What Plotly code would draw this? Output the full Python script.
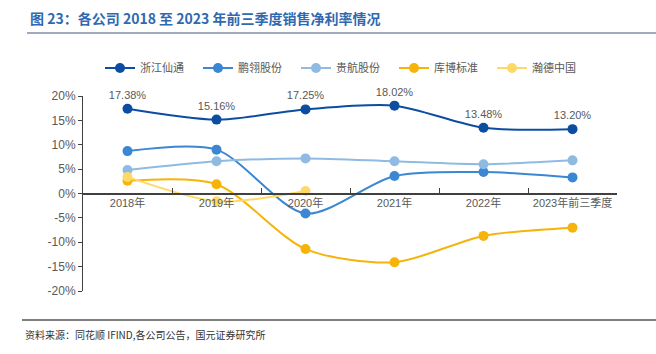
import plotly.graph_objects as go

categories = ["2018年", "2019年", "2020年", "2021年", "2022年", "2023年前三季度"]
zjxt = [17.38, 15.16, 17.25, 18.02, 13.48, 13.20]
plgf = [8.7, 9.0, -4.1, 3.6, 4.4, 3.3]
ghgf = [4.8, 6.6, 7.2, 6.6, 6.0, 6.8]
kbbz = [2.6, 1.9, -11.4, -14.1, -8.7, -7.0]
hdzg = [3.4, -1.6, 0.5, None, None, None]
y_ticks = [-20, -15, -10, -5, 0, 5, 10, 15, 20]

series = [
    ("浙江仙通", zjxt, "#0C4DA2"),
    ("鹏翎股份", plgf, "#3B87D2"),
    ("贵航股份", ghgf, "#8FBBE3"),
    ("库博标准", kbbz, "#F6B40A"),
    ("瀚德中国", hdzg, "#FFD966"),
]

W, H = 656, 354
ml, mr, mt, mb = 83, 39, 96, 63
fig = go.Figure()
for i, (name, vals, col) in enumerate(series):
    if i == 0:
        kw = dict(mode="lines+markers+text",
                  text=[f"{v:.2f}%" for v in vals],
                  textposition="top center",
                  textfont=dict(size=11, color="#595959", family="Liberation Sans, Arial"))
    else:
        kw = dict(mode="lines+markers")
    fig.add_trace(go.Scatter(
        x=categories, y=vals, name=name,
        line=dict(color=col, width=2, shape="spline", smoothing=0.8),
        marker=dict(color=col, size=10),
        connectgaps=False, cliponaxis=False, **kw))

fig.update_layout(
    width=W, height=H,
    margin=dict(l=ml, r=mr, t=mt, b=mb),
    paper_bgcolor="white", plot_bgcolor="white",
    showlegend=True,
    legend=dict(orientation="h", x=(100 - ml) / (W - ml - mr), xanchor="left",
                y=1 + (mt - 68) / (H - mt - mb), yanchor="middle",
                font=dict(size=11, color="#595959", family="Noto Sans CJK SC"),
                entrywidth=53, itemwidth=30, bgcolor="rgba(0,0,0,0)"),
    font=dict(family="Liberation Sans, Arial", color="#595959"),
)
fig.update_yaxes(range=[-20, 20], tickvals=y_ticks,
                 ticktext=[f"{v}%" for v in y_ticks],
                 showgrid=False, zeroline=False, showline=True,
                 linecolor="#404040", linewidth=1, ticks="outside", ticklen=4,
                 tickcolor="#404040", tickfont=dict(size=12, color="#595959"))
fig.update_xaxes(type="category", anchor="free", position=0.5,
                 showgrid=False, zeroline=False, showline=True,
                 linecolor="#404040", linewidth=1.5, ticks="inside", ticklen=5,
                 tickson="boundaries", tickcolor="#404040", tickangle=0,
                 tickfont=dict(size=11, color="#595959", family="Liberation Sans, Noto Sans CJK SC"),
                 range=[-0.5, 5.5])

# title
fig.add_annotation(xref="paper", yref="paper", x=-(ml - 28) / (W - ml - mr),
                   y=1 + (mt - 18) / (H - mt - mb), xanchor="left", yanchor="middle",
                   text="<b>图 23：各公司 2018 至 2023 年前三季度销售净利率情况</b>",
                   showarrow=False,
                   font=dict(size=14, color="#2F69B0", family="Noto Sans CJK SC"))
# title underline
fig.add_shape(type="line", xref="paper", yref="paper",
              x0=-(ml - 27) / (W - ml - mr), x1=1 + mr / (W - ml - mr),
              y0=1 + (mt - 33) / (H - mt - mb), y1=1 + (mt - 33) / (H - mt - mb),
              line=dict(color="#7F8FA6", width=1.5))
# footer line
fy = -(320 - (H - mb)) / (H - mt - mb)
fig.add_shape(type="line", xref="paper", yref="paper",
              x0=-(ml - 22) / (W - ml - mr), x1=1 + mr / (W - ml - mr),
              y0=fy, y1=fy, line=dict(color="#555555", width=1.5))
fig.add_annotation(xref="paper", yref="paper", x=-(ml - 23) / (W - ml - mr),
                   y=-(334 - (H - mb)) / (H - mt - mb), xanchor="left", yanchor="middle",
                   text="资料来源：同花顺 IFIND,各公司公告，国元证券研究所",
                   showarrow=False,
                   font=dict(size=10, color="#333333", family="Noto Sans CJK SC"))

fig.write_html("out.html")
